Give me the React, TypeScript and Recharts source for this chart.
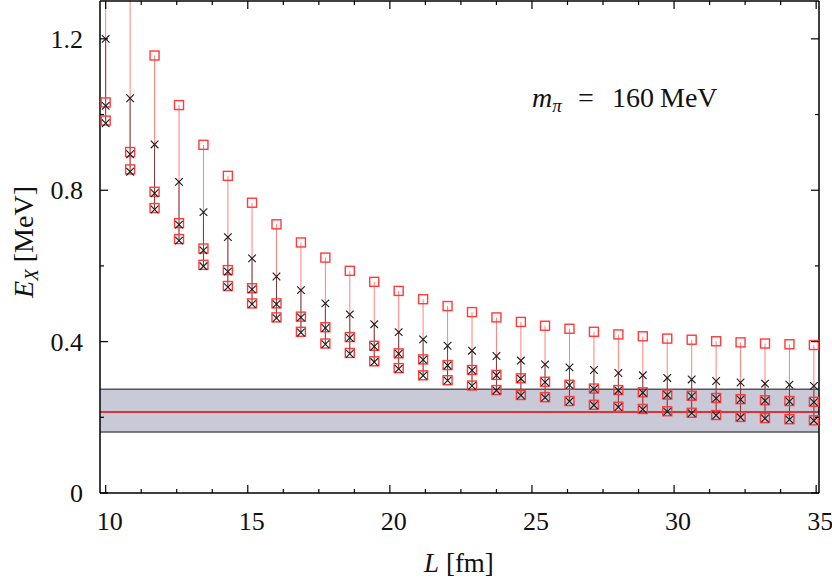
import React from "react";
import {
  ScatterChart,
  Scatter,
  XAxis,
  YAxis,
  ErrorBar,
  ReferenceArea,
  ReferenceLine,
} from "recharts";

// box sizes L [fm]
const boxL = [
  10.0, 10.86, 11.72, 12.58, 13.44, 14.3, 15.15, 16.01, 16.87, 17.73, 18.59,
  19.45, 20.31, 21.17, 22.03, 22.89, 23.75, 24.61, 25.46, 26.32, 27.18, 28.04,
  28.9, 29.76, 30.62, 31.48, 32.34, 33.2, 34.06, 34.92,
];

// red squares: upper, middle, lower
const redTop = [
  1.55, 1.36, 1.156, 1.025, 0.92, 0.838, 0.767, 0.71, 0.662, 0.622, 0.587,
  0.558, 0.534, 0.512, 0.494, 0.478, 0.464, 0.452, 0.442, 0.434, 0.426, 0.419,
  0.414, 0.408, 0.405, 0.401, 0.398, 0.395, 0.393, 0.391,
];
const redMid = [
  1.032, 0.901, 0.796, 0.713, 0.646, 0.589, 0.541, 0.501, 0.466, 0.438, 0.412,
  0.389, 0.369, 0.353, 0.338, 0.325, 0.312, 0.303, 0.294, 0.286, 0.276, 0.272,
  0.266, 0.26, 0.257, 0.251, 0.248, 0.245, 0.243, 0.241,
];
const redLow = [
  0.984, 0.855, 0.753, 0.671, 0.603, 0.547, 0.501, 0.464, 0.426, 0.395, 0.37,
  0.348, 0.33, 0.311, 0.298, 0.284, 0.272, 0.259, 0.253, 0.243, 0.233, 0.228,
  0.222, 0.216, 0.212, 0.206, 0.201, 0.198, 0.195, 0.192,
];

// black crosses: upper, middle, lower
const blackTop = [
  1.2, 1.043, 0.921, 0.822, 0.742, 0.676, 0.62, 0.572, 0.536, 0.501, 0.472,
  0.446, 0.425, 0.406, 0.389, 0.376, 0.362, 0.35, 0.34, 0.332, 0.325, 0.317,
  0.311, 0.304, 0.3, 0.296, 0.292, 0.289, 0.286, 0.283,
];
const blackMid = [
  1.023, 0.895, 0.792, 0.709, 0.641, 0.585, 0.538, 0.499, 0.464, 0.436, 0.41,
  0.387, 0.368, 0.352, 0.337, 0.324, 0.311, 0.302, 0.293, 0.285, 0.275, 0.271,
  0.265, 0.259, 0.256, 0.25, 0.247, 0.244, 0.242, 0.24,
];
const blackLow = [
  0.977, 0.849, 0.749, 0.667, 0.599, 0.544, 0.499, 0.462, 0.424, 0.393, 0.368,
  0.346, 0.328, 0.31, 0.297, 0.283, 0.271, 0.258, 0.252, 0.242, 0.232, 0.227,
  0.221, 0.215, 0.211, 0.205, 0.2, 0.197, 0.194, 0.191,
];

// infinite-volume band
const bandLow = 0.161;
const bandHigh = 0.274;
const bandCentral = 0.214;

const xTicks = [
  10, 11.25, 12.5, 13.75, 15, 16.25, 17.5, 18.75, 20, 21.25, 22.5, 23.75, 25,
  26.25, 27.5, 28.75, 30, 31.25, 32.5, 33.75, 35,
];
const yTicks = [0, 0.2, 0.4, 0.6, 0.8, 1.0, 1.2];

const FONT = "'Liberation Serif', 'DejaVu Serif', serif";
const FS = 26;

const redTopPts = boxL.map((L, i) => ({
  L,
  E: redTop[i],
  err: [redTop[i] - redLow[i], 0],
}));
const blackTopPts = boxL.map((L, i) => ({
  L,
  E: blackTop[i],
  err: [blackTop[i] - blackLow[i], 0],
}));
const redMidPts = boxL.map((L, i) => ({ L, E: redMid[i] }));
const redLowPts = boxL.map((L, i) => ({ L, E: redLow[i] }));
const blackMidPts = boxL.map((L, i) => ({ L, E: blackMid[i] }));
const blackLowPts = boxL.map((L, i) => ({ L, E: blackLow[i] }));

const isMajorX = (v: number) => Math.abs(v / 5 - Math.round(v / 5)) < 1e-6;
const isMajorY = (v: number) => Math.abs(v / 0.4 - Math.round(v / 0.4)) < 1e-6;

const Square = (props: any) => {
  const { cx, cy } = props;
  if (cx == null || cy == null) return null;
  return (
    <rect
      x={cx - 4.5}
      y={cy - 4.5}
      width={9}
      height={9}
      fill="none"
      stroke="#ff3b3b"
      strokeWidth={1.4}
    />
  );
};

const Cross = (props: any) => {
  const { cx, cy } = props;
  if (cx == null || cy == null) return null;
  const s = 3.8;
  return (
    <g stroke="#1a1a1a" strokeWidth={1.1}>
      <line x1={cx - s} y1={cy - s} x2={cx + s} y2={cy + s} />
      <line x1={cx - s} y1={cy + s} x2={cx + s} y2={cy - s} />
    </g>
  );
};

const Nothing = () => null;

const BottomTick = ({ x, y, payload }: any) => {
  const major = isMajorX(payload.value);
  return (
    <g>
      <line x1={x} x2={x} y1={y} y2={y - (major ? 8 : 4)} stroke="#000" strokeWidth={1.2} />
      {major && (
        <text x={x + 4} y={y + 37} textAnchor="middle" fontFamily={FONT} fontSize={FS} fill="#111">
          {payload.value}
        </text>
      )}
    </g>
  );
};

const TopTick = ({ x, y, payload }: any) => {
  const major = isMajorX(payload.value);
  return <line x1={x} x2={x} y1={y} y2={y + (major ? 8 : 4)} stroke="#000" strokeWidth={1.2} />;
};

const LeftTick = ({ x, y, payload }: any) => {
  const major = isMajorY(payload.value);
  return (
    <g>
      <line x1={x} x2={x + (major ? 8 : 4)} y1={y} y2={y} stroke="#000" strokeWidth={1.2} />
      {major && (
        <text x={x - 17} y={y + 9} textAnchor="end" fontFamily={FONT} fontSize={FS} fill="#111">
          {payload.value === 0 ? "0" : payload.value.toFixed(1)}
        </text>
      )}
    </g>
  );
};

const RightTick = ({ x, y, payload }: any) => {
  const major = isMajorY(payload.value);
  return <line x1={x} x2={x - (major ? 8 : 4)} y1={y} y2={y} stroke="#000" strokeWidth={1.2} />;
};

const XTitle = () => (
  <text x={459} y={572} textAnchor="middle" fontFamily={FONT} fontSize={27} fill="#111">
    <tspan fontStyle="italic">L</tspan>
    <tspan> [fm]</tspan>
  </text>
);

const YTitle = () => (
  <text
    x={0}
    y={0}
    transform="translate(33,242) rotate(-90)"
    textAnchor="middle"
    fontFamily={FONT}
    fontSize={28}
    fill="#111"
  >
    <tspan fontStyle="italic">E</tspan>
    <tspan fontStyle="italic" fontSize={19} dy={5}>X</tspan>
    <tspan dy={-5}> [MeV]</tspan>
  </text>
);

export default function App() {
  return (
    <div style={{ position: "absolute", left: 0, top: 0, width: 832, height: 582, background: "#fff" }}>
      <ScatterChart width={832} height={582} margin={{ top: 0, right: 12, bottom: 0, left: 0 }}>
        <XAxis
          type="number"
          dataKey="L"
          domain={[9.8, 35.1]}
          allowDataOverflow
          ticks={xTicks}
          interval={0}
          height={89}
          tickSize={0}
          tickMargin={0}
          tick={<BottomTick />}
          axisLine={{ stroke: "#000", strokeWidth: 1.5 }}
          label={XTitle}
        />
        <XAxis
          xAxisId="t"
          orientation="top"
          type="number"
          dataKey="L"
          domain={[9.8, 35.1]}
          allowDataOverflow
          ticks={xTicks}
          interval={0}
          height={1}
          tickSize={0}
          tickMargin={0}
          tick={<TopTick />}
          axisLine={{ stroke: "#000", strokeWidth: 1.5 }}
        />
        <YAxis
          type="number"
          dataKey="E"
          domain={[0, 1.3]}
          allowDataOverflow
          ticks={yTicks}
          interval={0}
          width={100}
          tickSize={0}
          tickMargin={0}
          tick={<LeftTick />}
          axisLine={{ stroke: "#000", strokeWidth: 1.5 }}
          label={YTitle}
        />
        <YAxis
          yAxisId="r"
          orientation="right"
          type="number"
          dataKey="E"
          domain={[0, 1.3]}
          allowDataOverflow
          ticks={yTicks}
          interval={0}
          width={1}
          tickSize={0}
          tickMargin={0}
          tick={<RightTick />}
          axisLine={{ stroke: "#000", strokeWidth: 1.5 }}
        />
        <ReferenceArea y1={bandLow} y2={bandHigh} fill="#c9c9d8" fillOpacity={1} stroke="none" />
        <ReferenceLine y={bandLow} stroke="#555" strokeWidth={1.5} />
        <ReferenceLine y={bandHigh} stroke="#555" strokeWidth={1.5} />
        <ReferenceLine y={bandCentral} stroke="#e00000" strokeWidth={1.6} />
        {/* invisible series so the mirrored top/right axes are drawn */}
        <Scatter data={redMidPts} xAxisId="t" yAxisId="r" shape={<Nothing />} isAnimationActive={false} />
        <Scatter data={redTopPts} shape={<Square />} isAnimationActive={false}>
          <ErrorBar dataKey="err" direction="y" width={0} stroke="#ff8080" strokeWidth={1} isAnimationActive={false} />
        </Scatter>
        <Scatter data={blackTopPts} shape={<Cross />} isAnimationActive={false}>
          <ErrorBar dataKey="err" direction="y" width={0} stroke="#000" strokeOpacity={0.55} strokeWidth={1} isAnimationActive={false} />
        </Scatter>
        <Scatter data={redMidPts} shape={<Square />} isAnimationActive={false} />
        <Scatter data={redLowPts} shape={<Square />} isAnimationActive={false} />
        <Scatter data={blackMidPts} shape={<Cross />} isAnimationActive={false} />
        <Scatter data={blackLowPts} shape={<Cross />} isAnimationActive={false} />
      </ScatterChart>
      <svg
        width={832}
        height={582}
        style={{ position: "absolute", left: 0, top: 0, pointerEvents: "none" }}
      >
        <text y={107} fontFamily={FONT} fontSize={28} fill="#111">
          <tspan x={532} fontStyle="italic">m</tspan>
          <tspan fontStyle="italic" fontSize={19} dy={5}>π</tspan>
          <tspan x={578} dy={-5}>=</tspan>
          <tspan x={612}>160</tspan>
          <tspan x={660}>MeV</tspan>
        </text>
      </svg>
    </div>
  );
}
